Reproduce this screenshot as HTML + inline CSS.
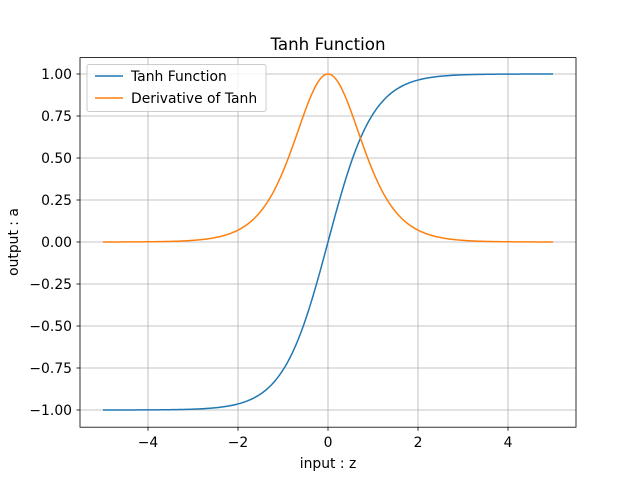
<!DOCTYPE html>
<html><head><meta charset="utf-8"><style>
body{margin:0;background:#fff}
svg text{font-family:"DejaVu Sans","Liberation Sans",sans-serif;font-size:13.9px;fill:#000}
</style></head><body>
<svg id="s" width="640" height="480" xmlns="http://www.w3.org/2000/svg">
<rect width="640" height="480" fill="#fff"/>
<g id="grid" stroke="#b0b0b0" stroke-width="0.8"></g>
<path id="p1" fill="none" stroke="#1f77b4" stroke-width="1.5"/>
<path id="p2" fill="none" stroke="#ff7f0e" stroke-width="1.5"/>
<rect x="80" y="57.6" width="496" height="369.6" fill="none" stroke="#000" stroke-width="0.8"/>
<g id="ticks" stroke="#000" stroke-width="0.8"></g>
<g id="labels"></g>
<text x="328" y="50" text-anchor="middle" style="font-size:16.7px">Tanh Function</text>
<text x="328" y="468" text-anchor="middle">input : z</text>
<text transform="translate(18,242) rotate(-90)" text-anchor="middle">output : a</text>
<rect x="87" y="64.5" width="179" height="47" rx="2" fill="#fff" fill-opacity="0.8" stroke="#ccc" stroke-width="1"/>
<line x1="95" y1="76" x2="123" y2="76" stroke="#1f77b4" stroke-width="1.5"/>
<text x="131" y="81">Tanh Function</text>
<line x1="95" y1="98" x2="123" y2="98" stroke="#ff7f0e" stroke-width="1.5"/>
<text x="131" y="103">Derivative of Tanh</text>
</svg>
<script>
var X=function(v){return 328+45*v},Y=function(v){return 242-168*v};
var g=document.getElementById('grid'),t=document.getElementById('ticks'),l=document.getElementById('labels'),ns='http://www.w3.org/2000/svg';
function el(p,n,a,txt){var e=document.createElementNS(ns,n);for(var k in a)e.setAttribute(k,a[k]);if(txt)e.textContent=txt;p.appendChild(e);}
[-4,-2,0,2,4].forEach(function(v){var x=X(v);el(g,'line',{x1:x,x2:x,y1:57.6,y2:427.2});el(t,'line',{x1:x,x2:x,y1:427.2,y2:430.7});
el(l,'text',{x:x,y:447,'text-anchor':'middle'},(v<0?'\u2212':'')+Math.abs(v));});
for(var i=-4;i<=4;i++){var v=i*0.25,y=Y(v);el(g,'line',{x1:80,x2:576,y1:y,y2:y});el(t,'line',{x1:76.5,x2:80,y1:y,y2:y});
el(l,'text',{x:72,y:y+5,'text-anchor':'end'},(v<0?'\u2212':'')+Math.abs(v).toFixed(2));}
var a='',b='';for(var k=0;k<=500;k++){var z=-5+k*0.02,th=Math.tanh(z);a+=(k?'L':'M')+X(z).toFixed(2)+','+Y(th).toFixed(2);b+=(k?'L':'M')+X(z).toFixed(2)+','+Y(1-th*th).toFixed(2);}
document.getElementById('p1').setAttribute('d',a);document.getElementById('p2').setAttribute('d',b);
</script>
</body></html>
